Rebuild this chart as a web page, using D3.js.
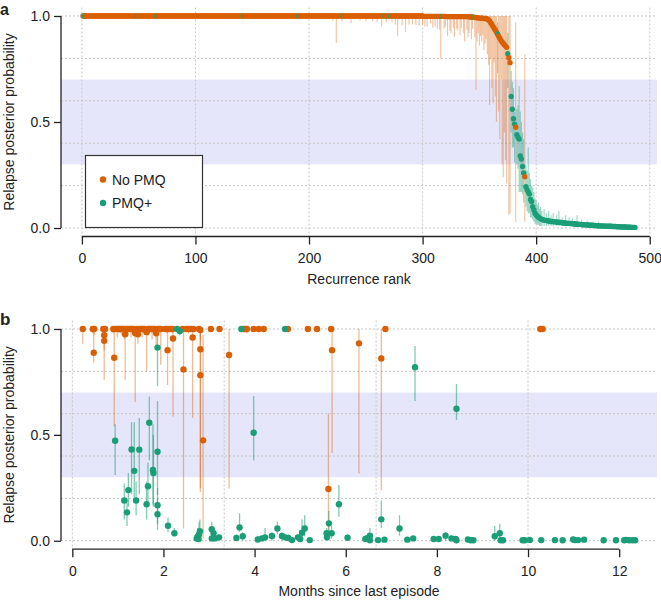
<!DOCTYPE html>
<html><head><meta charset="utf-8">
<script src="https://cdn.jsdelivr.net/npm/d3@7"></script>
<style>
body{margin:0;background:#fff}
svg{display:block}
text{font-family:"Liberation Sans",Arial,Helvetica,sans-serif;fill:#222}
</style>
</head><body>
<svg id="c" width="661" height="601"></svg>
<script>
// ---------------- DATA ----------------
const colNoPMQ = "#D95F02", colPMQ = "#1B9E77";
const legendLabels = ["No PMQ", "PMQ+"];
const yTicks = [0, 0.5, 1.0];
const gridY = [0, 0.2, 0.4, 0.6, 0.8, 1.0];
const xTicksA = [0, 100, 200, 300, 400, 500];
const xTicksB = [0, 2, 4, 6, 8, 10, 12];
const gridDaysB = [0, 100, 200, 300];
const daysPerMonth = 30;
const band = [0.3, 0.7];

// Panel a: posterior probability by recurrence rank (ranks 1..487)
const rankProb = [
1,1,1,1,1,1,1,1,1,1,1,1,1,1,1,1,1,1,1,1,1,1,1,1,1,
1,1,1,1,1,1,1,1,1,1,1,1,1,1,1,1,1,1,1,1,1,1,1,1,1,
1,1,1,1,1,1,1,1,1,1,1,1,1,1,1,1,1,1,1,1,1,1,1,1,1,
1,1,1,1,1,1,1,1,1,1,1,1,1,1,1,1,1,1,1,1,1,1,1,1,1,
1,1,1,1,1,1,1,1,1,1,1,1,1,1,1,1,1,1,1,1,1,1,1,1,1,
1,1,1,1,1,1,1,1,1,1,1,1,1,1,1,1,1,1,1,1,1,1,1,1,1,
1,1,1,1,1,1,1,1,1,1,1,1,1,1,1,1,1,1,1,1,1,1,1,1,1,
1,1,1,1,1,1,1,1,1,1,1,1,1,1,1,1,1,1,1,1,1,1,1,1,1,
1,1,1,1,1,1,1,1,1,1,1,1,1,1,1,1,1,1,1,1,1,1,1,1,1,
1,1,1,1,1,1,1,1,1,1,1,1,1,1,1,1,1,1,1,1,1,1,1,1,1,
1,1,1,1,1,1,1,1,1,1,1,1,1,1,1,1,1,1,1,1,1,1,1,1,1,
1,1,1,1,1,1,1,1,1,1,1,1,1,1,1,1,1,1,1,1,1,1,1,1,1,
0.998,0.998,0.998,0.998,0.998,0.998,0.998,0.998,0.998,0.998,0.998,0.998,0.998,0.998,0.998,0.998,0.998,0.998,0.998,0.998,
0.997,0.997,0.997,0.997,0.997,0.997,0.997,0.997,0.997,0.997,0.997,0.997,0.997,0.997,0.997,0.997,0.997,0.997,0.997,0.997,
0.996,0.995,0.995,0.994,0.994,0.993,0.993,0.992,0.991,0.990,0.990,0.989,0.989,0.988,0.988,
0.988,0.985,0.982,0.976,0.968,0.960,0.950,0.942,0.934,0.925,
0.915,0.905,0.895,0.885,0.877,0.870,0.864,0.858,0.852,0.822,
0.803,0.780,0.620,0.560,0.515,0.490,0.475,0.440,0.428,0.420,
0.340,0.325,0.290,0.260,0.242,0.195,0.180,0.170,0.160,0.135,
0.125,0.100,0.085,0.070,0.062,0.056,0.051,0.047,0.044,0.041,
0.039,0.037,0.036,0.035,0.034,
0.033,0.032,0.031,0.031,0.030,0.029,0.029,0.028,0.027,0.027,
0.026,0.026,0.025,0.024,0.024,0.023,0.023,0.022,0.022,0.021,
0.021,0.020,0.020,0.019,0.019,0.018,0.018,0.017,0.017,0.016,
0.016,0.015,0.015,0.015,0.014,0.014,0.013,0.013,0.013,0.012,
0.012,0.012,0.011,0.011,0.011,0.010,0.010,0.010,0.009,0.009,
0.009,0.009,0.008,0.008,0.008,0.008,0.007,0.007,0.007,0.007,
0.006,0.006,0.006,0.006,0.005,0.005,0.005,0.005,0.005,0.004,
0.004,0.004,0.004,0.003,0.003,0.003,0.003
];
// ranks that belong to the PMQ+ arm (others are No PMQ)
const pmqRanks = [2,49,66,142,191,230,267,272,317,345,366,375,378,379,380,381,
383,384,385,386,387,388,389,
391,392,393,394,395,396,397,398,399,400,401,402,403,404,405,406,407,408,409,410,
411,412,413,414,415,416,417,418,419,420,421,422,423,424,425,426,427,428,429,430,
431,432,433,434,435,436,437,438,439,440,441,442,443,444,445,446,447,448,449,450,
451,452,453,454,455,456,457,458,459,460,461,462,463,464,465,466,467,468,469,470,
471,472,473,474,475,476,477,478,479,480,481,482,483,484,485,486,487];

// Panel a credible intervals (only the visible ones)
const aBarRank = [221,224,229,237,245,250,256,260,264,268,273,276,278,282,285,288,291,294,297,300,
302,304,307,309,311,313,315,316,319,320,322,324,325,327,328,330,331,333,334,336,337,339,340,341,343,344,346,347,348,349,
350,351,352,353,354,355,356,357,358,359,360,361,362,363,364,365,367,368,369,370,371,372,373,374,376,377,382,390,
366,375,378,379,380,381,383,384,385,386,387,388,389,391,392,393,394,395,396,397,398,399,400,401,402,403,404,405,407,409,
411,413,415,418,420,423,426,429,432,436,440,445,450,455,460];
const aBarLo = [0.975,0.873,0.975,0.967,0.98,0.975,0.975,0.97,0.951,0.97,0.97,0.96,0.904,0.955,0.925,0.96,0.96,0.959,0.955,0.96,
0.95,0.95,0.965,0.945,0.95,0.94,0.935,0.80,0.94,0.95,0.905,0.93,0.92,0.945,0.90,0.94,0.93,0.91,0.945,0.92,0.88,0.935,0.90,0.92,0.89,0.94,0.90,0.652,0.88,0.92,
0.86,0.905,0.88,0.91,0.84,0.87,0.89,0.82,0.77,0.58,0.80,0.66,0.59,0.78,0.62,0.50,0.55,0.42,0.70,0.30,0.24,0.45,0.32,0.21,0.06,0.07,0.03,0.03,
0.73,0.66,0.45,0.38,0.38,0.31,0.30,0.28,0.17,0.17,0.17,0.16,0.12,0.10,0.08,0.07,0.07,0.05,0.05,0.04,0.03,0.02,0.02,0.015,0.015,0.01,0.01,0.01,0.01,0.01,
0.01,0.01,0.01,0.01,0.01,0.01,0.01,0.008,0.008,0.008,0.006,0.006,0.005,0.005,0.004];
const aBarHi = [1,1,1,1,1,1,1,1,1,1,1,1,1,1,1,1,1,1,1,1,
1,1,1,1,1,1,1,1,1,1,1,1,1,1,1,1,1,1,1,1,1,1,1,1,1,1,1,1,1,1,
1,1,1,1,1,1,1,1,1,1,1,1,1,1,1,1,1,1,1,1,1,1,1,1,1,1,0.97,0.82,
0.97,0.92,0.74,0.69,0.66,0.55,0.56,0.58,0.67,0.55,0.50,0.45,0.42,0.30,0.27,0.38,0.26,0.23,0.20,0.19,0.17,0.14,0.13,0.11,0.12,0.09,0.10,0.08,0.09,0.07,
0.08,0.06,0.07,0.06,0.08,0.05,0.06,0.05,0.045,0.06,0.04,0.035,0.03,0.03,0.025];

// Panel b: No PMQ arm (months since last episode, posterior, interval)
const noMonths = [0.23,0.45,0.48,0.47,0.68,0.70,0.70,0.72,0.90,0.92,0.95,0.99,1.02,1.05,1.08,1.11,1.14,1.16,1.19,1.22,
1.26,1.29,1.32,1.35,1.38,1.41,1.44,1.47,1.50,1.53,1.56,1.59,1.63,1.66,1.69,1.72,1.75,1.78,1.81,1.84,
1.88,1.91,1.94,2.04,2.08,2.09,2.12,2.16,2.20,2.21,2.42,2.44,2.50,2.55,2.60,2.64,2.66,2.78,2.81,2.81,
2.81,2.87,3.04,3.23,3.44,3.76,3.79,3.83,3.98,4.09,4.20,4.73,5.17,5.37,5.62,5.68,5.70,6.29,6.78,6.87,10.27,10.32];
const noProb = [1,1,1,0.888,1,0.97,0.944,1,1,0.864,1,1,1,1,1,1,1,0.975,1,1,
1,1,1,1,0.98,1,0.975,1,1,1,1,1,0.985,1,1,1,1,1,1,0.98,
1,1,1,1,1,0.90,1,1,1,0.955,1,0.809,1,1,1,0.96,1,1,0.995,0.904,
0.782,0.474,1,1,0.877,1,1,1,1,1,1,1,1,1,0.244,1,0.90,0.932,0.861,1,1,1];
const noLo = [0.93,0.98,0.97,0.84,0.98,0.90,0.76,0.97,0.98,0.54,0.99,0.96,0.99,0.98,0.97,0.99,0.95,0.76,0.98,0.97,
0.99,0.96,0.98,0.99,0.655,0.97,0.93,0.98,0.99,0.96,0.98,0.99,0.80,0.97,0.98,0.99,0.95,0.98,0.99,0.90,
0.97,0.99,0.83,0.99,0.98,0.735,0.99,0.99,0.98,0.585,0.99,0.058,0.99,0.98,0.99,0.58,0.99,0.98,0.95,0.23,
0.25,0.011,0.99,0.99,0.247,0.99,0.99,0.98,0.99,0.99,0.99,0.99,0.99,0.99,0.03,0.99,0.414,0.318,0.24,0.99,0.99,0.99];
const noHi = [1,1,1,0.99,1,1,0.995,1,1,1,1,1,1,1,1,1,1,1,1,1,
1,1,1,1,1,1,1,1,1,1,1,1,1,1,1,1,1,1,1,1,
1,1,1,1,1,1,1,1,1,1,1,1,1,1,1,1,1,1,1,1,
0.99,0.97,1,1,1,1,1,1,1,1,1,1,1,1,0.60,1,1,1,1,1,1,1];

// Panel b: PMQ+ arm
const pmqMonths = [2.30,2.36,3.71,4.67,1.87,0.94,1.30,1.47,1.36,1.69,1.77,1.78,1.87,1.23,1.14,1.20,1.40,1.66,1.63,1.87,
1.87,2.10,2.24,2.73,2.75,2.78,2.80,2.77,3.06,3.10,3.06,3.13,3.22,3.60,3.67,3.74,3.98,4.07,4.16,4.23,
4.38,4.50,4.60,4.67,4.74,4.82,4.95,5.00,5.04,5.10,5.21,5.58,5.59,5.63,5.69,5.85,6.04,6.43,6.48,6.53,
6.53,6.71,6.78,6.85,7.18,7.35,7.48,7.52,7.93,8.04,8.19,8.32,8.41,8.43,8.43,8.68,8.74,8.80,9.27,9.38,
9.40,9.45,9.88,9.93,10.04,10.29,10.59,10.76,10.99,11.03,11.10,11.23,11.66,11.93,12.11,12.15,12.22,12.29,12.35];
const pmqProb = [1,0.99,1,1,0.912,0.472,0.431,0.43,0.33,0.557,0.334,0.32,0.42,0.239,0.19,0.134,0.19,0.257,0.172,0.168,
0.125,0.071,0.035,0.011,0.02,0.03,0.045,0.008,0.054,0.035,0.011,0.011,0.016,0.013,0.063,0.021,0.51,0.006,0.011,0.016,
0.022,0.058,0.022,0.016,0.013,0.003,0.016,0.008,0.038,0.058,0.003,0.035,0.016,0.082,0.035,0.172,0.014,0.008,0.013,0.024,
0.002,0.003,0.101,0.005,0.058,0.005,0.011,0.819,0.008,0.008,0.024,0.011,0.008,0.623,0.002,0.006,0.002,0.002,0.021,0.035,
0.002,0.002,0.002,0.002,0.004,0.003,0.003,0.002,0.006,0.003,0.003,0.005,0.002,0.002,0.002,0.004,0.002,0.002,0.002];
const pmqLo = [0.99,0.97,0.99,0.99,0.73,0.31,0.22,0.22,0.18,0.38,0.17,0.16,0.216,0.16,0.10,0.07,0.12,0.18,0.10,0.08,
0.05,0.04,0.02,0,0,0.01,0.01,0,0.02,0.01,0,0,0,0,0.04,0,0.38,0,0,0,
0,0.03,0,0,0,0,0,0,0.01,0.02,0,0.01,0,0.04,0.01,0.113,0,0,0,0,
0,0,0.06,0,0.024,0,0,0.66,0,0,0,0,0,0.57,0,0,0,0,0,0,
0,0,0,0,0,0,0,0,0,0,0,0,0,0,0,0,0,0,0];
const pmqHi = [1,1,1,1,0.97,0.55,0.56,0.58,0.56,0.68,0.55,0.50,0.66,0.32,0.27,0.20,0.28,0.37,0.28,0.25,
0.20,0.11,0.06,0.03,0.06,0.09,0.10,0.02,0.09,0.06,0.02,0.02,0.03,0.03,0.13,0.04,0.683,0.02,0.02,0.06,
0.04,0.09,0.04,0.03,0.03,0.01,0.03,0.02,0.10,0.12,0.01,0.06,0.03,0.14,0.07,0.263,0.03,0.02,0.03,0.06,
0.01,0.01,0.19,0.01,0.12,0.01,0.02,0.92,0.02,0.02,0.04,0.02,0.02,0.74,0.01,0.01,0.01,0.01,0.07,0.08,
0.01,0.01,0.01,0.01,0.01,0.01,0.01,0.01,0.02,0.01,0.01,0.01,0.01,0.01,0.01,0.01,0.01,0.01,0.01];

// ---------------- DRAWING ----------------
const svg = d3.select("#c");
const L = 61, R = 657;
const gridCol = "#c6c6c6", axisCol = "#222";
const fs = 14;

const pmqSet = new Set(pmqRanks);
const armColor = r => pmqSet.has(r) ? colPMQ : colNoPMQ;

function frame(g, x, y, top, bottom, gridXs) {
  g.append("rect").attr("x", L).attr("width", R - L)
    .attr("y", y(band[1])).attr("height", y(band[0]) - y(band[1]))
    .attr("fill", "#e6e6fa");
  g.selectAll(".gx").data(gridXs).join("line")
    .attr("x1", d => x(d)).attr("x2", d => x(d)).attr("y1", top).attr("y2", bottom)
    .attr("stroke", gridCol).attr("stroke-width", 1).attr("stroke-dasharray", "2,2");
  g.selectAll(".gy").data(gridY).join("line")
    .attr("x1", L).attr("x2", R).attr("y1", d => y(d)).attr("y2", d => y(d))
    .attr("stroke", gridCol).attr("stroke-width", 1).attr("stroke-dasharray", "2,2");
}

function axes(g, x, y, bottom, xTicks, xTitle, yMid) {
  const ax = g.append("g").attr("transform", `translate(0,${bottom})`)
    .call(d3.axisBottom(x).tickValues(xTicks).tickSize(8).tickPadding(9).tickFormat(d3.format("d")));
  ax.select(".domain").remove();
  ax.append("line").attr("x1", x(xTicks[0])).attr("x2", x(xTicks[xTicks.length - 1]))
    .attr("y1", 0).attr("y2", 0).attr("stroke", axisCol).attr("stroke-width", 1.3);
  ax.selectAll(".tick line").attr("stroke", axisCol).attr("stroke-width", 1.3);
  ax.selectAll(".tick text").attr("font-size", fs).attr("fill", axisCol)
    .style("font-family", '"Liberation Sans",Arial,sans-serif');
  const ay = g.append("g").attr("transform", `translate(${L},0)`)
    .call(d3.axisLeft(y).tickValues(yTicks).tickSize(7).tickPadding(4).tickFormat(d3.format(".1f")));
  ay.select(".domain").remove();
  ay.append("line").attr("x1", 0).attr("x2", 0).attr("y1", y(0)).attr("y2", y(1))
    .attr("stroke", axisCol).attr("stroke-width", 1.3);
  ay.selectAll(".tick line").attr("stroke", axisCol).attr("stroke-width", 1.3);
  ay.selectAll(".tick text").attr("font-size", fs).attr("fill", axisCol)
    .style("font-family", '"Liberation Sans",Arial,sans-serif');
  g.append("text").attr("x", (L + R) / 2).attr("y", bottom + 47)
    .attr("text-anchor", "middle").attr("font-size", fs).text(xTitle);
  g.append("text").attr("transform", `translate(13.5,${yMid}) rotate(-90)`)
    .attr("text-anchor", "middle").attr("font-size", fs).text("Relapse posterior probability");
}

// ----- Panel a -----
const topA = 7.5, botA = 236.5;
const xa = d3.scaleLinear().domain([-18.4, 506.4]).range([L, R]);
const ya = d3.scaleLinear().domain([-0.04, 1.04]).range([botA, topA]);
const ga = svg.append("g");
frame(ga, xa, ya, topA, botA, xTicksA);

ga.selectAll(".bar").data(aBarRank).join("line")
  .attr("x1", d => xa(d)).attr("x2", d => xa(d))
  .attr("y1", (d, i) => ya(aBarLo[i])).attr("y2", (d, i) => ya(aBarHi[i]))
  .attr("stroke", d => armColor(d)).attr("stroke-width", 1.1)
  .attr("stroke-opacity", d => pmqSet.has(d) ? 0.45 : 0.38);

ga.selectAll(".pt").data(rankProb).join("circle")
  .attr("cx", (d, i) => xa(i + 1)).attr("cy", d => ya(d)).attr("r", 2.7)
  .attr("fill", (d, i) => armColor(i + 1));

axes(ga, xa, ya, botA, xTicksA, "Recurrence rank", (topA + botA) / 2);

// legend
const lg = ga.append("g");
lg.append("rect").attr("x", 85.5).attr("y", 155.5).attr("width", 117).attr("height", 72)
  .attr("fill", "#fff").attr("stroke", "#333").attr("stroke-width", 1.2);
[colNoPMQ, colPMQ].forEach((c, i) => {
  lg.append("circle").attr("cx", 103).attr("cy", 179.5 + i * 23.5).attr("r", 3.2).attr("fill", c);
  lg.append("text").attr("x", 112).attr("y", 184.5 + i * 23.5).attr("font-size", fs).text(legendLabels[i]);
});

// ----- Panel b -----
const topB = 320.5, botB = 549.2;
const xb = d3.scaleLinear().domain([-0.248, 12.83]).range([L, R]);
const yb = d3.scaleLinear().domain([-0.04, 1.04]).range([botB, topB]);
const gb = svg.append("g");
frame(gb, xb, yb, topB, botB, gridDaysB.map(d => d / daysPerMonth));

gb.selectAll(".bo").data(noMonths).join("line")
  .attr("x1", d => xb(d)).attr("x2", d => xb(d))
  .attr("y1", (d, i) => yb(noLo[i])).attr("y2", (d, i) => yb(noHi[i]))
  .attr("stroke", colNoPMQ).attr("stroke-width", 1.3).attr("stroke-opacity", 0.42);
gb.selectAll(".bg").data(pmqMonths).join("line")
  .attr("x1", d => xb(d)).attr("x2", d => xb(d))
  .attr("y1", (d, i) => yb(pmqLo[i])).attr("y2", (d, i) => yb(pmqHi[i]))
  .attr("stroke", colPMQ).attr("stroke-width", 1.3).attr("stroke-opacity", 0.55);
gb.selectAll(".po").data(noMonths).join("circle")
  .attr("cx", d => xb(d)).attr("cy", (d, i) => yb(noProb[i])).attr("r", 3.2).attr("fill", colNoPMQ);
gb.selectAll(".pg").data(pmqMonths).join("circle")
  .attr("cx", d => xb(d)).attr("cy", (d, i) => yb(pmqProb[i])).attr("r", 3.2).attr("fill", colPMQ);

axes(gb, xb, yb, botB, xTicksB, "Months since last episode", (topB + botB) / 2);

// panel letters
svg.append("text").attr("x", 0).attr("y", 14.5).attr("font-size", 16).attr("font-weight", "bold").text("a");
svg.append("text").attr("x", 0).attr("y", 325).attr("font-size", 17).attr("font-weight", "bold").text("b");
</script>
</body></html>
